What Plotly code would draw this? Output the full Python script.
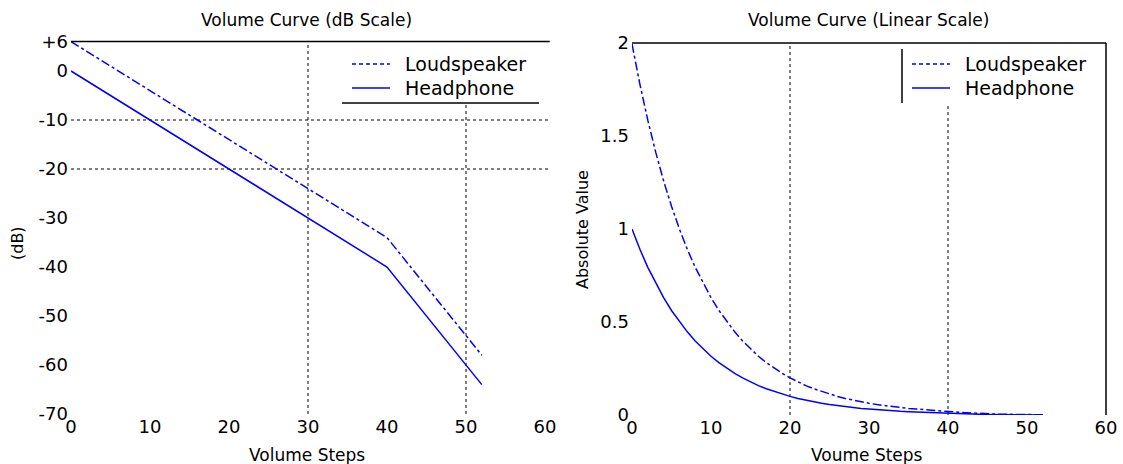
import plotly.graph_objects as go

# ---------------- data ----------------
steps_db = [0, 40, 52]
headphone_db = [0, -40, -64]
loudspeaker_db = [6, -34, -58]

steps_lin = list(range(53))
headphone_lin = [1.000, 0.891, 0.794, 0.708, 0.631, 0.562, 0.501, 0.447, 0.398, 0.355,
                 0.316, 0.282, 0.251, 0.224, 0.200, 0.178, 0.158, 0.141, 0.126, 0.112,
                 0.100, 0.089, 0.079, 0.071, 0.063, 0.056, 0.050, 0.045, 0.040, 0.035,
                 0.032, 0.028, 0.025, 0.022, 0.020, 0.018, 0.016, 0.014, 0.013, 0.011,
                 0.010, 0.008, 0.006, 0.005, 0.004, 0.003, 0.0025, 0.002, 0.0016, 0.0013,
                 0.001, 0.0008, 0.0006]
loudspeaker_lin = [1.995, 1.778, 1.585, 1.413, 1.259, 1.122, 1.000, 0.891, 0.794, 0.708,
                   0.631, 0.562, 0.501, 0.447, 0.398, 0.355, 0.316, 0.282, 0.251, 0.224,
                   0.200, 0.178, 0.158, 0.141, 0.126, 0.112, 0.100, 0.089, 0.079, 0.071,
                   0.063, 0.056, 0.050, 0.045, 0.040, 0.035, 0.032, 0.028, 0.025, 0.022,
                   0.020, 0.016, 0.013, 0.010, 0.008, 0.006, 0.005, 0.004, 0.003, 0.0025,
                   0.002, 0.0016, 0.0013]

x_ticks = [0, 10, 20, 30, 40, 50, 60]
db_ticks = [6, 0, -10, -20, -30, -40, -50, -60, -70]
db_tick_text = ["+6", "0", "-10", "-20", "-30", "-40", "-50", "-60", "-70"]
lin_ticks = [0, 0.5, 1, 1.5, 2]
lin_tick_text = ["0", "0.5", "1", "1.5", "2"]

series_names = ["Loudspeaker", "Headphone"]
grid_x_db = [30, 50]
grid_y_db = [-10, -20]
grid_x_lin = [20, 40]

# ---------------- layout helpers ----------------
W, H = 1123, 464
def px(x):
    return x / W
def py(y):
    return 1 - y / H

FONT = "DejaVu Sans"
BLUE = "#0000FF"

fig = go.Figure()

fig.add_trace(go.Scatter(x=steps_db, y=loudspeaker_db, mode="lines", xaxis="x", yaxis="y",
                         line=dict(color=BLUE, width=1.5, dash="dashdot"), showlegend=False))
fig.add_trace(go.Scatter(x=steps_db, y=headphone_db, mode="lines", xaxis="x", yaxis="y",
                         line=dict(color=BLUE, width=1.5), showlegend=False))
fig.add_trace(go.Scatter(x=steps_lin, y=loudspeaker_lin, mode="lines", xaxis="x2", yaxis="y2",
                         line=dict(color=BLUE, width=1.5, dash="dashdot"), showlegend=False))
fig.add_trace(go.Scatter(x=steps_lin, y=headphone_lin, mode="lines", xaxis="x2", yaxis="y2",
                         line=dict(color=BLUE, width=1.5), showlegend=False))

tickfont = dict(family=FONT, size=18, color="black")
axis_common = dict(showgrid=False, zeroline=False, showline=False, ticks="", tickfont=tickfont,
                   fixedrange=True, automargin=False)

fig.update_layout(
    width=W, height=H,
    margin=dict(l=0, r=0, t=0, b=0, pad=0, autoexpand=False),
    paper_bgcolor="white", plot_bgcolor="white",
    showlegend=False,
    xaxis=dict(domain=[px(71), px(545)], range=[0, 60], tickvals=x_ticks,
               anchor="y", **axis_common),
    yaxis=dict(domain=[py(414), py(41.6)], range=[-70, 6], tickvals=db_ticks,
               ticktext=db_tick_text, anchor="x", ticklabelstandoff=2, **axis_common),
    xaxis2=dict(domain=[px(632), px(1106)], range=[0, 60], tickvals=x_ticks,
                anchor="y2", **axis_common),
    yaxis2=dict(domain=[py(415), py(43)], range=[0, 2], tickvals=lin_ticks,
                ticktext=lin_tick_text, anchor="x2", ticklabelstandoff=2, **axis_common),
)

shapes = []
grid = dict(color="black", width=1, dash="dot")
# left plot grid
for gx in grid_x_db:
    shapes.append(dict(type="line", xref="x", yref="y domain", x0=gx, x1=gx, y0=0, y1=1,
                       line=grid, layer="below"))
for gy in grid_y_db:
    shapes.append(dict(type="line", xref="x domain", yref="y", x0=0, x1=1.01, y0=gy, y1=gy,
                       line=grid, layer="below"))
# right plot grid
for gx in grid_x_lin:
    shapes.append(dict(type="line", xref="x2", yref="y2 domain", x0=gx, x1=gx, y0=0, y1=1,
                       line=grid, layer="below"))

# borders
shapes.append(dict(type="line", xref="x domain", yref="y domain", x0=0, x1=1.01, y0=1, y1=1,
                   line=dict(color="black", width=1.5)))
shapes.append(dict(type="line", xref="x2 domain", yref="y2 domain", x0=0, x1=1, y0=1, y1=1,
                   line=dict(color="black", width=1.5)))
shapes.append(dict(type="line", xref="x2 domain", yref="y2 domain", x0=1, x1=1, y0=0, y1=1,
                   line=dict(color="black", width=1.5)))

# legend backgrounds and frame pieces
shapes.append(dict(type="rect", xref="paper", yref="paper", x0=px(342), x1=px(543),
                   y0=py(103), y1=py(44), fillcolor="white", line=dict(width=0), layer="above"))
shapes.append(dict(type="line", xref="paper", yref="paper", x0=px(342), x1=px(539),
                   y0=py(103), y1=py(103), line=dict(color="black", width=1.5)))
shapes.append(dict(type="rect", xref="paper", yref="paper", x0=px(903), x1=px(1105),
                   y0=py(103), y1=py(45), fillcolor="white", line=dict(width=0), layer="above"))
shapes.append(dict(type="line", xref="paper", yref="paper", x0=px(902), x1=px(902),
                   y0=py(103), y1=py(49), line=dict(color="black", width=1.5)))

annotations = []
legend_font = dict(family=FONT, size=19, color="black")
for (lx0, lx1, tx) in [(352, 390, 403), (912, 950, 963)]:
    for i, (name, yy) in enumerate(zip(series_names, [64, 88])):
        shapes.append(dict(type="line", xref="paper", yref="paper", x0=px(lx0), x1=px(lx1),
                           y0=py(yy), y1=py(yy),
                           line=dict(color=BLUE, width=1.5, dash="4px,3px" if i == 0 else "solid")))
        annotations.append(dict(text=name, xref="paper", yref="paper", x=px(tx), y=py(yy),
                                xanchor="left", yanchor="middle", showarrow=False, font=legend_font))

title_font = dict(family=FONT, size=17, color="black")
annotations += [
    dict(text="Volume Curve (dB Scale)", xref="paper", yref="paper", x=px(306), y=py(20),
         xanchor="center", yanchor="middle", showarrow=False, font=title_font),
    dict(text="Volume Curve (Linear Scale)", xref="paper", yref="paper", x=px(868), y=py(20),
         xanchor="center", yanchor="middle", showarrow=False, font=title_font),
    dict(text="Volume Steps", xref="paper", yref="paper", x=px(307), y=py(455),
         xanchor="center", yanchor="middle", showarrow=False, font=title_font),
    dict(text="Voume Steps", xref="paper", yref="paper", x=px(867), y=py(455),
         xanchor="center", yanchor="middle", showarrow=False, font=title_font),
    dict(text="(dB)", xref="paper", yref="paper", x=px(18), y=py(243), textangle=-90,
         xanchor="center", yanchor="middle", showarrow=False, font=dict(family=FONT, size=16, color="black")),
    dict(text="Absolute Value", xref="paper", yref="paper", x=px(582), y=py(230), textangle=-90,
         xanchor="center", yanchor="middle", showarrow=False, font=dict(family=FONT, size=16, color="black")),
]

fig.update_layout(shapes=shapes, annotations=annotations)
fig.write_html("out.html", config={"displayModeBar": False},
               post_script="document.body.style.margin='0px';document.body.style.overflow='hidden';")
